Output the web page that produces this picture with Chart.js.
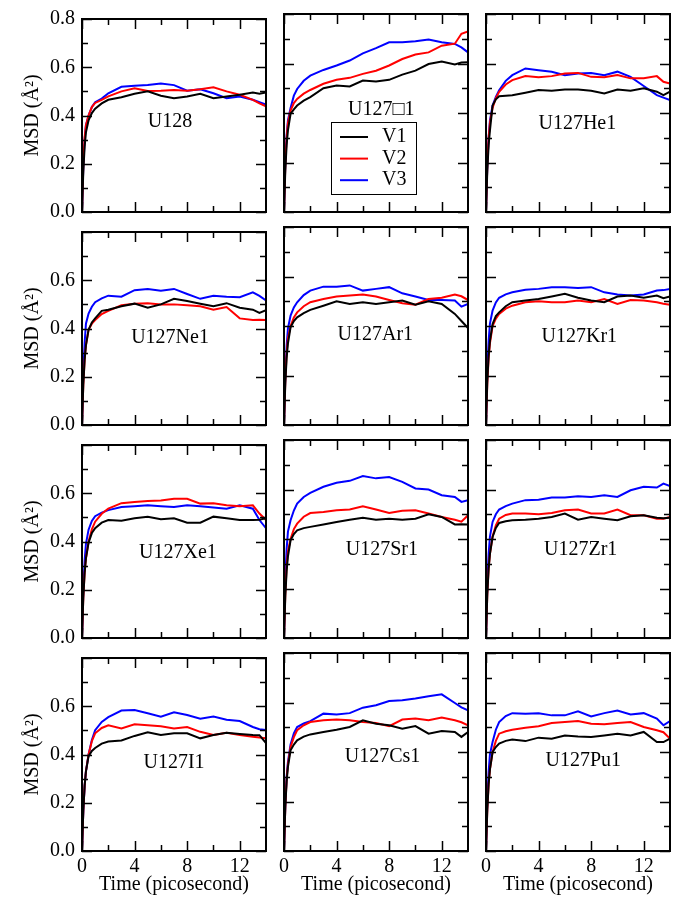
<!DOCTYPE html>
<html>
<head>
<meta charset="utf-8">
<script src="https://cdn.jsdelivr.net/npm/chart.js@4.4.1/dist/chart.umd.min.js"></script>
<style>
  html, body { margin: 0; padding: 0; background: #fff; }
  #wrap { position: relative; width: 688px; height: 902px; overflow: hidden; }
  #wrap canvas { position: absolute; }
</style>
</head>
<body>
<div id="wrap"></div>
<script>
// time axis (picosecond), shared by every curve
const TIME = [0, 0.1, 0.2, 0.3, 0.5, 0.75, 1, 1.5, 2, 3, 4, 5, 6, 7, 8, 9, 10, 11, 12, 13, 13.5, 14];

const PANELS = ['U128', 'U127\u25A11', 'U127He1', 'U127Ne1', 'U127Ar1', 'U127Kr1',
                'U127Xe1', 'U127Sr1', 'U127Zr1', 'U127I1', 'U127Cs1', 'U127Pu1'];
const SERIES = ['V1', 'V2', 'V3'];

// MSD values, one row per panel (same order as PANELS)
const V1 = [
  [0, 0.17, 0.27, 0.33, 0.38, 0.41, 0.428, 0.45, 0.465, 0.476, 0.49, 0.50, 0.482, 0.472, 0.479, 0.49, 0.472, 0.479, 0.486, 0.495, 0.49, 0.495],
  [0, 0.17, 0.27, 0.33, 0.397, 0.415, 0.43, 0.45, 0.464, 0.50, 0.511, 0.507, 0.531, 0.527, 0.534, 0.555, 0.571, 0.598, 0.608, 0.596, 0.604, 0.605],
  [0, 0.17, 0.27, 0.33, 0.43, 0.455, 0.468, 0.47, 0.472, 0.482, 0.493, 0.49, 0.495, 0.495, 0.49, 0.479, 0.495, 0.49, 0.50, 0.486, 0.472, 0.486],
  [0, 0.17, 0.27, 0.33, 0.395, 0.425, 0.442, 0.473, 0.478, 0.492, 0.503, 0.486, 0.50, 0.523, 0.514, 0.503, 0.492, 0.505, 0.486, 0.478, 0.465, 0.476],
  [0, 0.17, 0.27, 0.33, 0.395, 0.42, 0.435, 0.452, 0.465, 0.482, 0.50, 0.489, 0.496, 0.489, 0.496, 0.503, 0.486, 0.50, 0.489, 0.449, 0.42, 0.392],
  [0, 0.18, 0.28, 0.34, 0.408, 0.44, 0.455, 0.48, 0.496, 0.503, 0.509, 0.519, 0.53, 0.514, 0.503, 0.496, 0.519, 0.523, 0.514, 0.523, 0.512, 0.519],
  [0, 0.17, 0.27, 0.33, 0.395, 0.435, 0.455, 0.478, 0.489, 0.486, 0.496, 0.503, 0.492, 0.496, 0.478, 0.478, 0.503, 0.496, 0.489, 0.489, 0.49, 0.496],
  [0, 0.17, 0.27, 0.33, 0.395, 0.42, 0.435, 0.444, 0.449, 0.459, 0.469, 0.478, 0.486, 0.478, 0.482, 0.478, 0.482, 0.50, 0.489, 0.459, 0.46, 0.459],
  [0, 0.18, 0.28, 0.34, 0.408, 0.445, 0.465, 0.472, 0.476, 0.478, 0.482, 0.489, 0.503, 0.478, 0.489, 0.482, 0.476, 0.492, 0.496, 0.486, 0.484, 0.486],
  [0, 0.17, 0.27, 0.33, 0.393, 0.415, 0.427, 0.445, 0.454, 0.458, 0.477, 0.492, 0.481, 0.488, 0.488, 0.467, 0.481, 0.49, 0.485, 0.481, 0.48, 0.447],
  [0, 0.18, 0.28, 0.34, 0.407, 0.43, 0.447, 0.462, 0.471, 0.481, 0.49, 0.501, 0.528, 0.514, 0.508, 0.494, 0.505, 0.474, 0.485, 0.481, 0.461, 0.481],
  [0, 0.17, 0.27, 0.33, 0.40, 0.42, 0.434, 0.445, 0.45, 0.444, 0.458, 0.454, 0.467, 0.463, 0.461, 0.467, 0.474, 0.467, 0.481, 0.44, 0.44, 0.454]
];
const V2 = [
  [0, 0.2, 0.31, 0.36, 0.40, 0.435, 0.452, 0.465, 0.479, 0.50, 0.513, 0.502, 0.503, 0.506, 0.503, 0.509, 0.517, 0.50, 0.486, 0.465, 0.45, 0.438],
  [0, 0.19, 0.3, 0.36, 0.41, 0.44, 0.457, 0.478, 0.493, 0.518, 0.534, 0.542, 0.558, 0.571, 0.592, 0.618, 0.636, 0.645, 0.672, 0.68, 0.72, 0.73],
  [0, 0.19, 0.3, 0.36, 0.42, 0.46, 0.486, 0.515, 0.533, 0.549, 0.544, 0.549, 0.56, 0.562, 0.546, 0.544, 0.553, 0.54, 0.54, 0.549, 0.526, 0.519],
  [0, 0.17, 0.27, 0.33, 0.395, 0.42, 0.435, 0.46, 0.473, 0.496, 0.503, 0.505, 0.50, 0.50, 0.496, 0.492, 0.478, 0.489, 0.442, 0.435, 0.436, 0.435],
  [0, 0.18, 0.29, 0.35, 0.40, 0.435, 0.455, 0.48, 0.496, 0.509, 0.519, 0.523, 0.527, 0.519, 0.505, 0.492, 0.486, 0.509, 0.514, 0.527, 0.52, 0.505],
  [0, 0.17, 0.27, 0.33, 0.40, 0.43, 0.449, 0.47, 0.482, 0.496, 0.50, 0.496, 0.496, 0.503, 0.496, 0.509, 0.489, 0.505, 0.503, 0.496, 0.49, 0.486],
  [0, 0.17, 0.27, 0.33, 0.40, 0.45, 0.482, 0.515, 0.536, 0.559, 0.564, 0.568, 0.57, 0.577, 0.577, 0.557, 0.559, 0.55, 0.546, 0.55, 0.516, 0.489],
  [0, 0.18, 0.29, 0.35, 0.40, 0.44, 0.462, 0.49, 0.505, 0.509, 0.516, 0.519, 0.532, 0.519, 0.505, 0.514, 0.516, 0.503, 0.489, 0.478, 0.47, 0.496],
  [0, 0.18, 0.28, 0.34, 0.41, 0.455, 0.482, 0.497, 0.503, 0.503, 0.50, 0.505, 0.516, 0.519, 0.503, 0.503, 0.519, 0.496, 0.496, 0.482, 0.482, 0.489],
  [0, 0.17, 0.27, 0.33, 0.40, 0.455, 0.488, 0.51, 0.521, 0.508, 0.525, 0.521, 0.517, 0.508, 0.514, 0.494, 0.481, 0.49, 0.481, 0.474, 0.47, 0.467],
  [0, 0.18, 0.29, 0.35, 0.42, 0.46, 0.488, 0.508, 0.521, 0.528, 0.531, 0.528, 0.521, 0.517, 0.504, 0.531, 0.535, 0.528, 0.539, 0.528, 0.52, 0.508],
  [0, 0.17, 0.27, 0.33, 0.40, 0.445, 0.474, 0.484, 0.49, 0.498, 0.504, 0.517, 0.521, 0.525, 0.514, 0.512, 0.517, 0.521, 0.501, 0.488, 0.48, 0.454]
];
const V3 = [
  [0, 0.19, 0.3, 0.36, 0.40, 0.435, 0.455, 0.47, 0.492, 0.519, 0.523, 0.526, 0.533, 0.526, 0.503, 0.509, 0.492, 0.472, 0.479, 0.465, 0.455, 0.445],
  [0, 0.2, 0.31, 0.37, 0.42, 0.47, 0.497, 0.53, 0.551, 0.574, 0.592, 0.612, 0.641, 0.662, 0.686, 0.686, 0.69, 0.697, 0.686, 0.679, 0.665, 0.645],
  [0, 0.19, 0.3, 0.37, 0.43, 0.465, 0.492, 0.53, 0.553, 0.58, 0.573, 0.567, 0.553, 0.56, 0.562, 0.553, 0.567, 0.546, 0.509, 0.472, 0.462, 0.452],
  [0, 0.22, 0.34, 0.42, 0.462, 0.49, 0.509, 0.525, 0.536, 0.532, 0.559, 0.564, 0.557, 0.564, 0.543, 0.523, 0.536, 0.532, 0.53, 0.55, 0.535, 0.516],
  [0, 0.2, 0.32, 0.39, 0.442, 0.475, 0.496, 0.525, 0.543, 0.559, 0.559, 0.564, 0.543, 0.55, 0.557, 0.532, 0.519, 0.505, 0.505, 0.503, 0.478, 0.489],
  [0, 0.22, 0.34, 0.41, 0.462, 0.495, 0.514, 0.528, 0.536, 0.546, 0.55, 0.557, 0.557, 0.554, 0.557, 0.536, 0.527, 0.523, 0.527, 0.543, 0.545, 0.55],
  [0, 0.2, 0.32, 0.39, 0.449, 0.485, 0.505, 0.52, 0.53, 0.543, 0.546, 0.55, 0.546, 0.543, 0.55, 0.546, 0.541, 0.536, 0.55, 0.536, 0.489, 0.455],
  [0, 0.24, 0.36, 0.43, 0.476, 0.515, 0.543, 0.57, 0.586, 0.611, 0.627, 0.635, 0.654, 0.645, 0.65, 0.631, 0.604, 0.60, 0.577, 0.57, 0.55, 0.557],
  [0, 0.22, 0.34, 0.41, 0.469, 0.50, 0.519, 0.533, 0.543, 0.557, 0.559, 0.568, 0.568, 0.573, 0.57, 0.577, 0.57, 0.597, 0.611, 0.608, 0.624, 0.614],
  [0, 0.17, 0.27, 0.33, 0.40, 0.46, 0.501, 0.535, 0.555, 0.582, 0.584, 0.571, 0.557, 0.575, 0.564, 0.548, 0.557, 0.544, 0.539, 0.514, 0.505, 0.501],
  [0, 0.19, 0.3, 0.36, 0.43, 0.475, 0.501, 0.515, 0.525, 0.555, 0.552, 0.557, 0.579, 0.589, 0.606, 0.609, 0.616, 0.625, 0.633, 0.598, 0.58, 0.568],
  [0, 0.2, 0.32, 0.39, 0.44, 0.49, 0.521, 0.545, 0.557, 0.555, 0.557, 0.548, 0.548, 0.564, 0.544, 0.557, 0.568, 0.552, 0.557, 0.535, 0.508, 0.525]
];

const X_MAJOR = [0, 4, 8, 12];
const X_MINOR = [2, 6, 10];
const Y_MAJOR = [0, 0.2, 0.4, 0.6, 0.8];
const Y_MINOR = [0.1, 0.3, 0.5, 0.7];

// layout (page pixels)
const COL_LEFT = [82, 284, 486];
const ROW_TOP = [14, 227, 440, 653];
const PLOT_W = 184, PLOT_H = 198;
const M = { left: 82, top: 14, right: 8, bottom: 56 };
// where each panel name sits, in data units
const LABEL_AT = [[6.7, 0.375], [7.4, 0.414], [6.95, 0.358], [6.7, 0.361], [6.95, 0.365], [7.1, 0.357],
                  [7.3, 0.355], [7.45, 0.355], [7.2, 0.355], [7.0, 0.366], [7.5, 0.38], [7.4, 0.366]];
const COLORS = ['#000000', '#ff0000', '#0000ff'];
const FONT = '"Liberation Serif", "Times New Roman", serif';

const framePlugin = {
  id: 'frame',
  afterDatasetsDraw(chart, args, opts) {
    const { ctx, chartArea: a, scales: { x, y } } = chart;
    ctx.save();
    ctx.strokeStyle = '#000';
    ctx.lineWidth = 1.5;
    ctx.beginPath();
    const xt = (vals, len) => vals.forEach(v => {
      const px = Math.round(x.getPixelForValue(v)) + 0.5;
      ctx.moveTo(px, a.bottom); ctx.lineTo(px, a.bottom - len);
      ctx.moveTo(px, a.top); ctx.lineTo(px, a.top + len);
    });
    const yt = (vals, len) => vals.forEach(v => {
      const py = Math.round(y.getPixelForValue(v)) + 0.5;
      ctx.moveTo(a.left, py); ctx.lineTo(a.left + len, py);
      ctx.moveTo(a.right, py); ctx.lineTo(a.right - len, py);
    });
    xt(X_MAJOR, 10); xt(X_MINOR, 6);
    yt(Y_MAJOR, 10); yt(Y_MINOR, 6);
    ctx.stroke();
    ctx.lineWidth = 2;
    ctx.strokeRect(a.left, a.top, a.right - a.left, a.bottom - a.top);

    ctx.fillStyle = '#000';
    ctx.font = '20px ' + FONT;
    ctx.textAlign = 'center';
    ctx.textBaseline = 'middle';
    ctx.fillText(opts.name, x.getPixelForValue(opts.at[0]), y.getPixelForValue(opts.at[1]));

    if (opts.legend) {
      const bx = a.left + 47, by = a.top + 108;
      ctx.fillStyle = '#fff';
      ctx.fillRect(bx, by, 85, 72);
      ctx.lineWidth = 1;
      ctx.strokeStyle = '#000';
      ctx.strokeRect(bx + 0.5, by + 0.5, 85, 72);
      ctx.textAlign = 'left';
      chart.data.datasets.forEach((ds, k) => {
        const ly = by + 15 + k * 21.6;
        ctx.strokeStyle = ds.borderColor;
        ctx.lineWidth = 2;
        ctx.beginPath();
        ctx.moveTo(bx + 9, ly); ctx.lineTo(bx + 37, ly);
        ctx.stroke();
        ctx.fillStyle = '#000';
        ctx.fillText(ds.label, bx + 51, ly);
      });
    }
    ctx.restore();
  }
};

const wrap = document.getElementById('wrap');
PANELS.forEach((name, i) => {
  const row = Math.floor(i / 3), col = i % 3;
  const leftCol = col === 0, bottomRow = row === 3;
  const cv = document.createElement('canvas');
  const w = M.left + PLOT_W + M.right, h = M.top + PLOT_H + M.bottom;
  cv.width = w; cv.height = h;
  cv.style.left = (COL_LEFT[col] - M.left) + 'px';
  cv.style.top = (ROW_TOP[row] - M.top) + 'px';
  cv.style.width = w + 'px'; cv.style.height = h + 'px';
  wrap.appendChild(cv);

  const rows = [V1[i], V2[i], V3[i]];
  new Chart(cv, {
    type: 'line',
    data: {
      datasets: SERIES.map((s, k) => ({
        label: s,
        data: TIME.map((t, j) => ({ x: t, y: rows[k][j] })),
        borderColor: COLORS[k],
        borderWidth: 2,
        pointRadius: 0,
        tension: 0,
        fill: false
      }))
    },
    options: {
      responsive: false,
      animation: false,
      devicePixelRatio: 1,
      layout: { padding: { top: M.top, right: M.right, left: 0, bottom: 0 } },
      plugins: {
        legend: { display: false },
        tooltip: { enabled: false },
        frame: { name: name, at: LABEL_AT[i], legend: i === 1 }
      },
      scales: {
        x: {
          type: 'linear', min: 0, max: 14,
          afterBuildTicks: s => { s.ticks = X_MAJOR.map(v => ({ value: v })); },
          afterFit: s => { s.height = M.bottom; },
          grid: { display: false, drawTicks: false },
          border: { display: false },
          ticks: { display: bottomRow, padding: 4, color: '#000', maxRotation: 0, autoSkip: false,
                   font: { family: FONT, size: 20 }, callback: v => String(v) },
          title: { display: bottomRow, text: 'Time (picosecond)', color: '#000',
                   font: { family: FONT, size: 20 }, padding: { top: 0, bottom: 10 } }
        },
        y: {
          min: 0, max: 0.8,
          afterBuildTicks: s => { s.ticks = Y_MAJOR.map(v => ({ value: v })); },
          afterFit: s => { s.width = M.left; },
          grid: { display: false, drawTicks: false },
          border: { display: false },
          ticks: { display: leftCol, padding: 7, color: '#000', autoSkip: false,
                   font: { family: FONT, size: 20 },
                   callback: v => (row > 0 && v > 0.75) ? '' : v.toFixed(1) },
          title: { display: leftCol, text: 'MSD (\u00C5\u00B2)', color: '#000',
                   font: { family: FONT, size: 20 }, padding: { top: 21, bottom: 0 } }
        }
      }
    },
    plugins: [framePlugin]
  });
});
</script>
</body>
</html>
